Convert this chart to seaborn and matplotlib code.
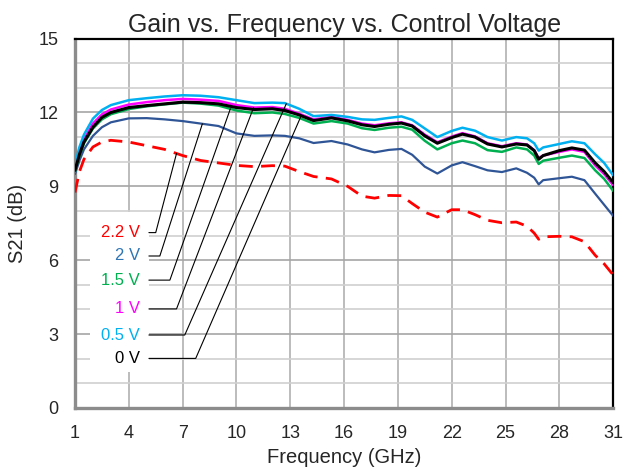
import numpy as np
import pandas as pd
import matplotlib
matplotlib.use("Agg")
import matplotlib.pyplot as plt
from matplotlib.patches import Rectangle
import seaborn as sns

# frequency grid (GHz) shared by all curves
freq = [1, 1.25, 1.5, 2, 2.5, 3, 4, 5, 6, 7, 8, 9, 10, 11, 12, 12.7, 13.5, 14.3,
        15.3, 16.2, 17, 17.7, 18.5, 19.2, 19.8, 20.5, 21.2, 22, 22.6, 23.3, 24,
        24.8, 25.6, 26.2, 26.6, 26.85, 27.1, 28, 28.7, 29.4, 30, 30.5, 31]

# S21 (dB) per control voltage
s21_0v0 = [9.65, 10.3, 10.8, 11.4, 11.8, 12.0, 12.2, 12.28, 12.35, 12.42, 12.4, 12.35,
           12.2, 12.12, 12.15, 12.08, 11.9, 11.67, 11.78, 11.66, 11.5, 11.43, 11.52,
           11.57, 11.45, 11.05, 10.75, 10.98, 11.12, 11.0, 10.72, 10.6, 10.72, 10.68,
           10.45, 10.1, 10.25, 10.45, 10.56, 10.47, 9.95, 9.6, 9.15]
s21_0v5 = [9.9, 10.6, 11.1, 11.75, 12.1, 12.3, 12.5, 12.58, 12.65, 12.7, 12.68, 12.62,
           12.5, 12.38, 12.4, 12.38, 12.15, 11.85, 11.9, 11.82, 11.72, 11.7, 11.78,
           11.84, 11.7, 11.35, 11.0, 11.25, 11.38, 11.26, 11.0, 10.86, 11.0, 10.95,
           10.75, 10.45, 10.58, 10.72, 10.83, 10.75, 10.3, 9.95, 9.45]
s21_1v0 = [9.75, 10.4, 10.9, 11.55, 11.92, 12.12, 12.32, 12.42, 12.5, 12.55, 12.52, 12.47,
           12.3, 12.2, 12.22, 12.15, 11.95, 11.72, 11.82, 11.7, 11.55, 11.48, 11.56,
           11.6, 11.48, 11.1, 10.79, 11.02, 11.16, 11.03, 10.75, 10.63, 10.75, 10.7,
           10.47, 10.14, 10.25, 10.4, 10.5, 10.4, 9.85, 9.5, 9.05]
s21_1v5 = [9.6, 10.25, 10.75, 11.35, 11.72, 11.93, 12.14, 12.25, 12.33, 12.4, 12.36, 12.28,
           12.08, 11.97, 12.0, 11.94, 11.78, 11.55, 11.65, 11.55, 11.36, 11.29, 11.38,
           11.42, 11.3, 10.85, 10.5, 10.75, 10.86, 10.75, 10.47, 10.4, 10.58, 10.5,
           10.25, 9.91, 10.04, 10.16, 10.25, 10.15, 9.65, 9.3, 8.82]
s21_2v0 = [9.5, 10.05, 10.5, 11.05, 11.4, 11.6, 11.76, 11.77, 11.72, 11.65, 11.55, 11.45,
           11.15, 11.05, 11.07, 11.05, 10.95, 10.76, 10.84, 10.7, 10.5, 10.38, 10.48,
           10.52, 10.28, 9.8, 9.52, 9.85, 9.98, 9.82, 9.65, 9.58, 9.73, 9.55,
           9.35, 9.08, 9.25, 9.33, 9.39, 9.25, 8.7, 8.25, 7.8]
s21_2v2 = [8.75, 9.6, 10.1, 10.6, 10.8, 10.87, 10.8, 10.65, 10.5, 10.25, 10.05, 9.95,
           9.85, 9.8, 9.84, 9.82, 9.6, 9.4, 9.3, 9.0, 8.6, 8.52, 8.63,
           8.62, 8.3, 7.95, 7.75, 8.05, 8.05, 7.85, 7.62, 7.52, 7.55, 7.38,
           7.1, 6.85, 6.95, 6.97, 6.95, 6.75, 6.2, 5.85, 5.4]

labels = ["2.2 V", "2 V", "1.5 V", "1 V", "0.5 V", "0 V"]
series = [s21_2v2, s21_2v0, s21_1v5, s21_1v0, s21_0v5, s21_0v0]
line_colors = ["#ff0000", "#2f5597", "#00b050", "#ff00ff", "#00b0f0", "#000000"]
text_colors = ["#ff0000", "#2e75b6", "#00b050", "#ff00ff", "#00b0f0", "#000000"]
widths = [2.0, 1.6, 1.8, 1.8, 1.8, 2.2]

# callout layout: label row height, leader knee and where the leader hits the curve
label_y = [7.12, 6.17, 5.19, 4.02, 2.96, 2.01]
knee_f = [5.5, 5.73, 6.29, 6.66, 7.12, 7.73]
pointer_f = [6.66, 8.1, 9.66, 10.96, 12.78, 13.61]

sns.set_theme(style="white")
plt.rcParams["font.family"] = ["Liberation Sans", "DejaVu Sans"]

fig = plt.figure(figsize=(6.25, 4.71), dpi=100)
ax = fig.add_axes([0.12, 0.134, 0.861, 0.784])

df = pd.DataFrame({"freq": np.tile(freq, len(labels)),
                   "s21": np.concatenate(series),
                   "ctrl": np.repeat(labels, len(freq))})

for lab, col, lw in zip(labels, line_colors, widths):
    sns.lineplot(data=df[df.ctrl == lab], x="freq", y="s21", color=col,
                 linewidth=lw, ax=ax, zorder=3,
                 linestyle=(0, (5, 3)) if lab == "2.2 V" else "-")

ax.set_xlim(1, 31)
ax.set_ylim(0, 15)
ax.set_xticks(np.arange(1, 32, 3))
ax.set_yticks(np.arange(0, 16, 3))
ax.set_yticks(np.arange(0, 16, 1), minor=True)
ax.set_axisbelow(True)
ax.grid(True, which="major", axis="y", color="#a6a6a6", linewidth=1.2)
ax.grid(True, which="minor", axis="y", color="#d0d0d0", linewidth=1.2)
ax.grid(True, which="major", axis="x", color="#b0b0b0", linewidth=1.2)
ax.tick_params(axis="both", which="both", length=0, labelsize=13, pad=12)

for side in ["left", "bottom"]:
    ax.spines[side].set_color("#8c8c8c")
    ax.spines[side].set_linewidth(2.4)
for side in ["top", "right"]:
    ax.spines[side].set_color("black")
    ax.spines[side].set_linewidth(1.6)

ax.set_xlabel("Frequency (GHz)", fontsize=14.5, labelpad=5)
ax.set_ylabel("S21 (dB)", fontsize=14.5, labelpad=8)
ax.set_title("Gain vs. Frequency vs. Control Voltage", fontsize=18, pad=5)

# white panel behind the callout labels
ax.add_patch(Rectangle((1.83, 1.47), 3.29, 6.48, facecolor="white",
                       edgecolor="none", zorder=1))

for lab, s, tc, ly, kf, pf in zip(labels, series, text_colors, label_y, knee_f, pointer_f):
    ax.text(4.62, ly, lab, color=tc, fontsize=12, ha="right", va="center", zorder=4)
    py = np.interp(pf, freq, s)
    ax.plot([5.12, kf, pf], [ly, ly, py], color="black", linewidth=0.8, zorder=4)

fig.savefig("out.png", dpi=100)
